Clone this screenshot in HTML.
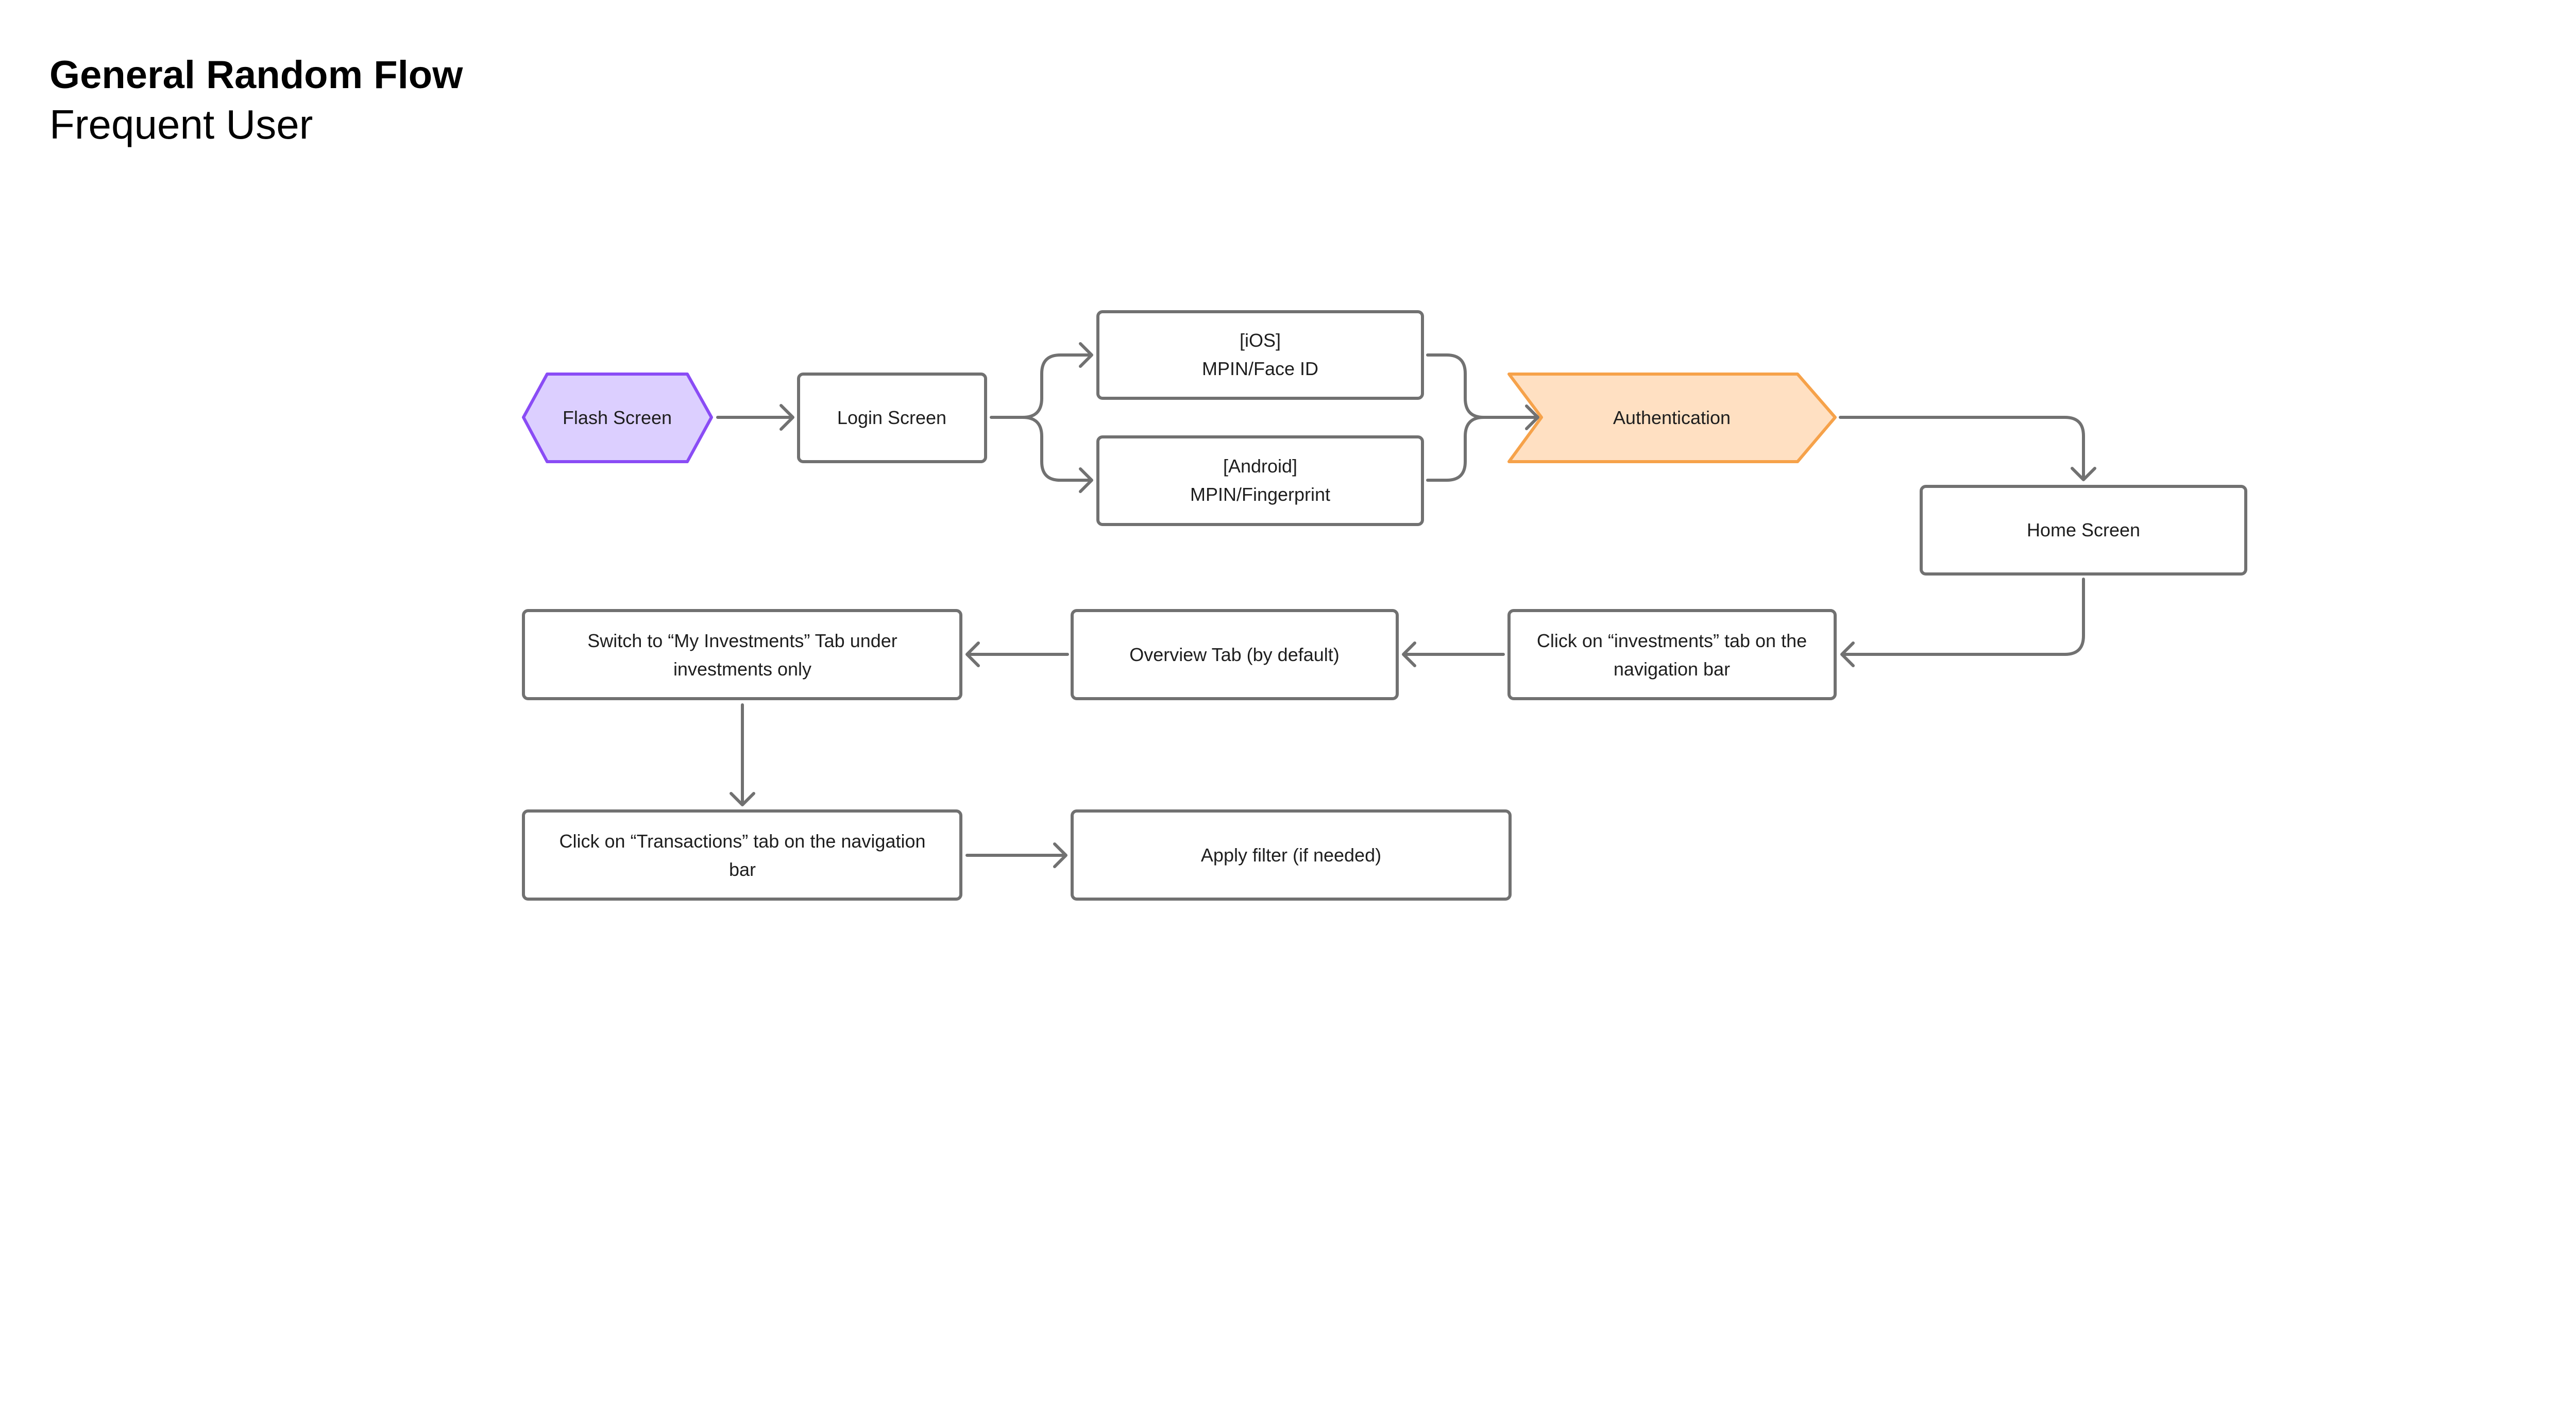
<!DOCTYPE html>
<html><head><meta charset="utf-8"><style>
html,body{margin:0;padding:0;background:#fff;}
body{width:5376px;height:2756px;overflow:hidden;position:relative;font-family:"Liberation Sans",sans-serif;}
.t1{position:absolute;left:96px;top:96px;font-size:76px;font-weight:bold;color:#000;line-height:100px;}
.t2{position:absolute;left:96px;top:192px;font-size:80px;color:#000;line-height:100px;}
svg{position:absolute;left:0;top:0;}
</style></head><body>
<div class="t1">General Random Flow</div>
<div class="t2">Frequent User</div>
<svg width="5376" height="2756" viewBox="0 0 5376 2756" xmlns="http://www.w3.org/2000/svg">
<g fill="#fff" stroke="#717171" stroke-width="6">
<rect x="1550" y="726" width="363" height="170" rx="9"/>
<rect x="2131" y="605" width="630" height="168" rx="9"/>
<rect x="2131" y="848" width="630" height="170" rx="9"/>
<rect x="3729" y="944" width="630" height="170" rx="9"/>
<rect x="2929" y="1185" width="633" height="171" rx="9"/>
<rect x="2081" y="1185" width="631" height="171" rx="9"/>
<rect x="1016" y="1185" width="849" height="171" rx="9"/>
<rect x="1016" y="1574" width="849" height="171" rx="9"/>
<rect x="2081" y="1574" width="850" height="171" rx="9"/>
</g>
<polygon points="1016,810 1062,726 1334,726 1381,810 1334,896 1062,896" fill="#dccfff" stroke="#8a4cf5" stroke-width="6" stroke-linejoin="round"/>
<polygon points="2929,726 3489,726 3562,810 3489,896 2929,896 2992,810" fill="#ffe0c2" stroke="#f6a24a" stroke-width="6" stroke-linejoin="round"/>
<g fill="none" stroke="#717171" stroke-width="6" stroke-linecap="round" stroke-linejoin="round">
<path d="M1393 810 H1538 M1516 787 L1539 810 L1516 833"/>
<path d="M1924 810 H1985 Q2022 810 2022 773 V725 Q2022 689 2058 689 H2119 M2097 667 L2119 689 L2097 711"/>
<path d="M1985 810 Q2022 810 2022 847 V896 Q2022 932 2058 932 H2119 M2097 910 L2119 932 L2097 954"/>
<path d="M2771 689 H2808 Q2844 689 2844 725 V773 Q2844 810 2880 810 H2985 M2963 788 L2985 810 L2963 832"/>
<path d="M2771 932 H2808 Q2844 932 2844 896 V847 Q2844 810 2880 810"/>
<path d="M3572 810 H4008 Q4044 810 4044 846 V931 M4022 909 L4044 931 L4066 909"/>
<path d="M4044 1124 V1234 Q4044 1270 4008 1270 H3575 M3597 1248 L3575 1270 L3597 1292"/>
<path d="M2918 1270 H2724 M2746 1248 L2724 1270 L2746 1292"/>
<path d="M2072 1270 H1877 M1899 1248 L1877 1270 L1899 1292"/>
<path d="M1441 1368 V1562 M1419 1540 L1441 1562 L1463 1540"/>
<path d="M1877 1660 H2069 M2047 1638 L2069 1660 L2047 1682"/>
</g>
<g font-family="Liberation Sans, sans-serif" font-size="36" fill="#1e1e1e" text-anchor="middle">
<text x="1198" y="823">Flash Screen</text>
<text x="1731" y="823">Login Screen</text>
<text x="2446" y="673">[iOS]</text>
<text x="2446" y="728">MPIN/Face ID</text>
<text x="2446" y="917">[Android]</text>
<text x="2446" y="972">MPIN/Fingerprint</text>
<text x="3245" y="823">Authentication</text>
<text x="4044" y="1041">Home Screen</text>
<text x="3245" y="1256">Click on “investments” tab on the</text>
<text x="3245" y="1311">navigation bar</text>
<text x="2396" y="1283">Overview Tab (by default)</text>
<text x="1441" y="1256">Switch to “My Investments” Tab under</text>
<text x="1441" y="1311">investments only</text>
<text x="1441" y="1645">Click on “Transactions” tab on the navigation</text>
<text x="1441" y="1700">bar</text>
<text x="2506" y="1672">Apply filter (if needed)</text>
</g>
</svg>
</body></html>
